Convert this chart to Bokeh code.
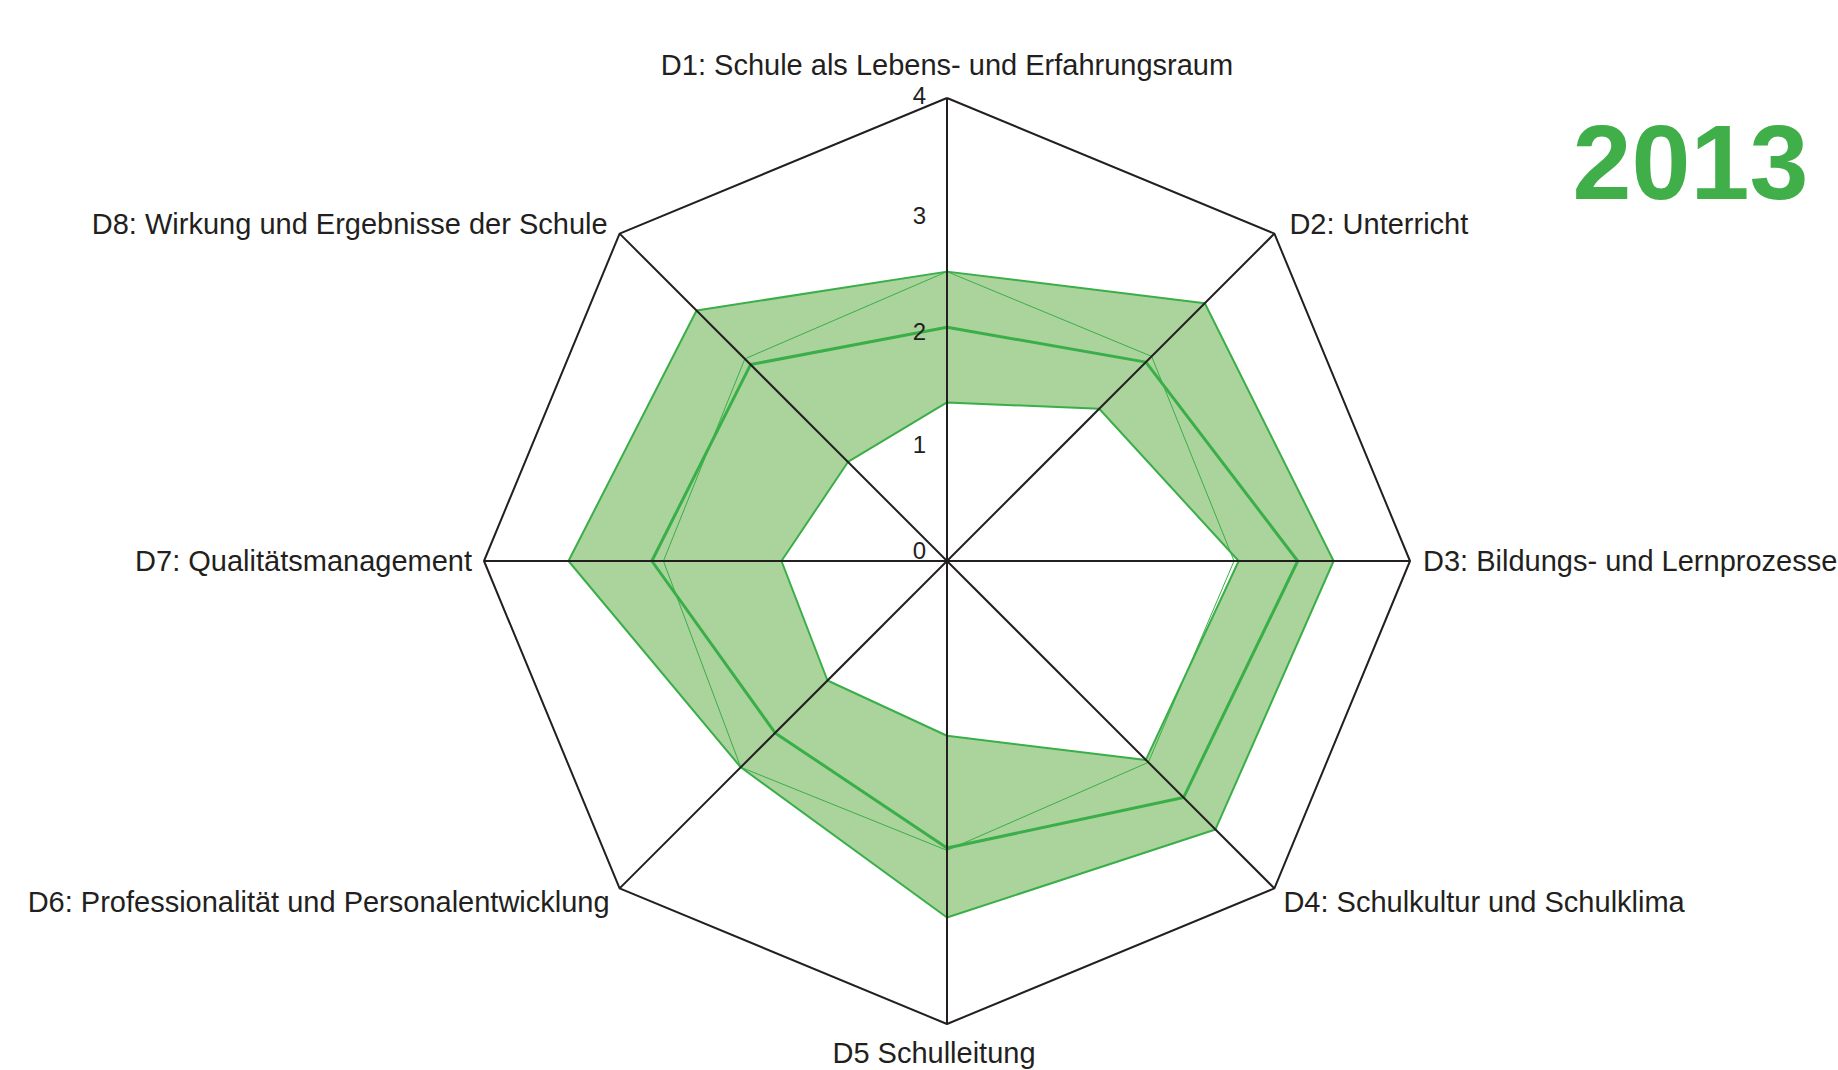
import math
from bokeh.plotting import figure
from bokeh.models import Range1d, Label
from bokeh.core.properties import value
from bokeh.embed import file_html
from bokeh.resources import INLINE

# ---------------- data ----------------
categories = [
    "D1: Schule als Lebens- und Erfahrungsraum",
    "D2: Unterricht",
    "D3: Bildungs- und Lernprozesse",
    "D4: Schulkultur und Schulklima",
    "D5 Schulleitung",
    "D6: Professionalität und Personalentwicklung",
    "D7: Qualitätsmanagement",
    "D8: Wirkung und Ergebnisse der Schule",
]
max_vals = [2.50, 3.15, 3.34, 3.28, 3.08, 2.52, 3.27, 3.06]
min_vals = [1.37, 1.86, 2.52, 2.43, 1.51, 1.46, 1.43, 1.21]
mean_vals = [2.02, 2.43, 3.03, 2.89, 2.48, 2.10, 2.55, 2.40]
school_vals = [2.50, 2.50, 2.48, 2.46, 2.50, 2.52, 2.45, 2.47]
ticks = [0, 1, 2, 3, 4]
tick_labels = ["0", "1", "2", "3", "4"]
scale_max = 4
year = "2013"

# ---------------- layout ----------------
W, H = 1838, 1070
CX, CY = 946.5, 560.5   # centre in figure pixels (from top-left)
U = 115.75              # pixels per value unit

FONT = "Liberation Sans"
TXT = "#231f20"
BLACK = "#231f20"
GREEN = "#3aae49"
FILL = "#aad49c"

n = len(categories)
angles = [math.radians(90 - 360.0 / n * k) for k in range(n)]


def polar(vals):
    xs = [v * math.cos(a) for v, a in zip(vals, angles)]
    ys = [v * math.sin(a) for v, a in zip(vals, angles)]
    return xs, ys


def closed(seq):
    return list(seq) + [seq[0]]


p = figure(
    width=W, height=H,
    x_range=Range1d(-CX / U, (W - CX) / U),
    y_range=Range1d(-(H - CY) / U, CY / U),
    x_axis_type=None, y_axis_type=None,
    toolbar_location=None, output_backend="svg",
    min_border=0, outline_line_color=None,
)
p.grid.visible = False
p.background_fill_color = "white"
p.border_fill_color = "white"

# band between min and max
mx, my = polar(max_vals)
nx, ny = polar(min_vals)
p.multi_polygons(xs=[[[mx, nx]]], ys=[[[my, ny]]], fill_color=FILL,
                 line_color=None)

# green lines
p.line(closed(mx), closed(my), line_color=GREEN, line_width=2)
p.line(closed(nx), closed(ny), line_color=GREEN, line_width=2)
sx, sy = polar(school_vals)
p.line(closed(sx), closed(sy), line_color=GREEN, line_width=1)
ax_, ay_ = polar(mean_vals)
p.line(closed(ax_), closed(ay_), line_color=GREEN, line_width=3)

# spokes and outer octagon
ox, oy = polar([scale_max] * n)
for x, y in zip(ox, oy):
    p.line([0, x], [0, y], line_color=BLACK, line_width=2)
p.line(closed(ox), closed(oy), line_color=BLACK, line_width=2)

# tick labels along D1 axis
tick_y_off = [-11, -1, 2, 2, -3]
for t, lab, yo in zip(ticks, tick_labels, tick_y_off):
    p.text(x=[0], y=[t], text=[lab], text_font=value(FONT),
           text_font_size="24px", text_color=TXT, text_align="right",
           text_baseline="middle", x_offset=-21, y_offset=yo)

# category labels
label_style = [
    # align, x_offset, y_offset
    ("center", 0, -33),
    ("left", 15, -10),
    ("left", 13, 0),
    ("left", 9, 14),
    ("center", -13, 29),
    ("right", -10, 14),
    ("right", -12, 0),
    ("right", -12, -10),
]
for cat, x, y, (al, xo, yo) in zip(categories, ox, oy, label_style):
    p.text(x=[x], y=[y], text=[cat], text_font=value(FONT),
           text_font_size="29px", text_color=TXT, text_align=al,
           text_baseline="middle", x_offset=xo, y_offset=yo)

p.add_layout(Label(x=1690, y=H - 162, x_units="screen", y_units="screen",
                   text=year, text_font=FONT, text_font_size="106px",
                   text_font_style="bold", text_color="#40ae49",
                   text_align="center", text_baseline="middle"))

open("out.html", "w").write(file_html(p, INLINE))
